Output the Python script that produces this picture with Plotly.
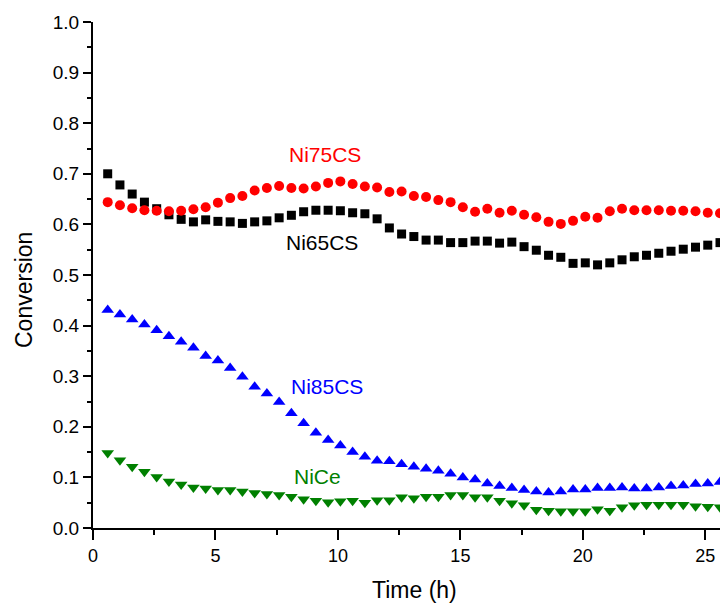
import plotly.graph_objects as go

time_h = [0.6, 1.1, 1.6, 2.1, 2.6, 3.1, 3.6, 4.1, 4.6, 5.1,
          5.6, 6.1, 6.6, 7.1, 7.6, 8.1, 8.6, 9.1, 9.6, 10.1,
          10.6, 11.1, 11.6, 12.1, 12.6, 13.1, 13.6, 14.1, 14.6, 15.1,
          15.6, 16.1, 16.6, 17.1, 17.6, 18.1, 18.6, 19.1, 19.6, 20.1,
          20.6, 21.1, 21.6, 22.1, 22.6, 23.1, 23.6, 24.1, 24.6, 25.1, 25.6]

ni65cs = [0.700, 0.678, 0.660, 0.644, 0.631, 0.619, 0.610, 0.605, 0.609, 0.606,
          0.605, 0.602, 0.605, 0.607, 0.613, 0.618, 0.625, 0.628, 0.628, 0.627,
          0.623, 0.621, 0.611, 0.593, 0.581, 0.576, 0.569, 0.569, 0.564, 0.564,
          0.567, 0.567, 0.563, 0.565, 0.556, 0.549, 0.539, 0.535, 0.523, 0.524,
          0.520, 0.524, 0.530, 0.536, 0.539, 0.543, 0.547, 0.551, 0.555, 0.559, 0.564]

ni75cs = [0.644, 0.638, 0.632, 0.628, 0.627, 0.626, 0.627, 0.630, 0.634, 0.643,
          0.652, 0.656, 0.667, 0.672, 0.676, 0.672, 0.671, 0.675, 0.682, 0.685,
          0.680, 0.675, 0.673, 0.664, 0.665, 0.656, 0.654, 0.648, 0.644, 0.634,
          0.625, 0.631, 0.623, 0.627, 0.619, 0.614, 0.605, 0.601, 0.607, 0.615,
          0.613, 0.626, 0.631, 0.628, 0.628, 0.628, 0.627, 0.627, 0.626, 0.623, 0.622]

ni85cs = [0.431, 0.422, 0.412, 0.402, 0.391, 0.379, 0.368, 0.356, 0.340, 0.331,
          0.316, 0.299, 0.279, 0.266, 0.249, 0.227, 0.207, 0.188, 0.174, 0.163,
          0.150, 0.141, 0.133, 0.132, 0.126, 0.121, 0.117, 0.113, 0.107, 0.100,
          0.096, 0.088, 0.083, 0.079, 0.075, 0.072, 0.070, 0.072, 0.076, 0.076,
          0.079, 0.079, 0.080, 0.078, 0.078, 0.080, 0.083, 0.084, 0.087, 0.088, 0.091]

nice = [0.148, 0.134, 0.121, 0.111, 0.101, 0.092, 0.086, 0.080, 0.078, 0.075,
        0.075, 0.072, 0.069, 0.067, 0.065, 0.062, 0.057, 0.054, 0.051, 0.053,
        0.054, 0.050, 0.055, 0.055, 0.061, 0.059, 0.062, 0.062, 0.065, 0.065,
        0.061, 0.061, 0.054, 0.049, 0.045, 0.036, 0.034, 0.033, 0.033, 0.033,
        0.037, 0.034, 0.041, 0.045, 0.046, 0.046, 0.046, 0.046, 0.043, 0.042, 0.041]

series = [
    ("Ni65CS", ni65cs, "#000000", "square", 9),
    ("Ni75CS", ni75cs, "#FF0000", "circle", 10),
    ("Ni85CS", ni85cs, "#0000FF", "triangle-up", 11),
    ("NiCe", nice, "#008000", "triangle-down", 11),
]

label_pos = {
    "Ni75CS": (9.46, 0.738),
    "Ni65CS": (9.37, 0.564),
    "Ni85CS": (9.57, 0.279),
    "NiCe": (9.15, 0.102),
}

FONT = "Liberation Sans, Arial, sans-serif"

W, H = 720, 605
ML, MR, MT, MB = 93, 0, 22, 605 - 528
pw, ph = W - ML - MR, H - MT - MB

fig = go.Figure()
for name, vals, color, sym, size in series:
    fig.add_trace(go.Scatter(
        x=time_h, y=vals, mode="markers", name=name,
        marker=dict(symbol=sym, size=size, color=color, line=dict(width=0)),
        cliponaxis=False, showlegend=False,
    ))

annotations = []
for name, vals, color, sym, size in series:
    lx, ly = label_pos[name]
    annotations.append(dict(x=lx, y=ly, xref="x", yref="y", text=name,
                            xanchor="center", yanchor="middle",
                            showarrow=False, font=dict(family=FONT, size=21, color=color)))

# axis titles placed by page pixel position
titles = [("Time (h)", 414, 590, 0), ("Conversion", 24, 290, -90)]
for text, px, py, ang in titles:
    annotations.append(dict(
        x=(px - ML) / pw, y=(H - MB - py) / ph,
        xref="paper", yref="paper", xanchor="center", yanchor="middle",
        text=text, textangle=ang, showarrow=False,
        font=dict(family=FONT, size=23, color="black")))

fig.update_layout(
    width=W, height=H,
    margin=dict(l=ML, r=MR, t=MT, b=MB, pad=0),
    plot_bgcolor="white", paper_bgcolor="white",
    font=dict(family=FONT, size=19, color="black"),
    annotations=annotations,
)

fig.update_xaxes(
    range=[0, 25.6], tick0=0, dtick=5, ticks="outside", ticklen=10, tickwidth=1.5,
    tickcolor="black", showline=True, linecolor="black", linewidth=2,
    showgrid=False, zeroline=False, mirror=False, ticklabeloverflow="allow",
    minor=dict(dtick=2.5, ticks="outside", ticklen=5, tickwidth=1.5, tickcolor="black"),
    tickfont=dict(family=FONT, size=18, color="black"),
)
fig.update_yaxes(
    range=[0, 1.0], tick0=0, dtick=0.1, tickformat=".1f", ticks="outside", ticklen=8,
    tickwidth=1.5, tickcolor="black", showline=True, linecolor="black", linewidth=2,
    showgrid=False, zeroline=False,
    minor=dict(dtick=0.05, ticks="outside", ticklen=4, tickwidth=1.5, tickcolor="black"),
    tickfont=dict(family=FONT, size=19, color="black"),
)

fig.write_html(
    "out.html",
    config={"displayModeBar": False},
    post_script="document.body.style.margin='0';document.body.style.overflow='hidden';",
)
